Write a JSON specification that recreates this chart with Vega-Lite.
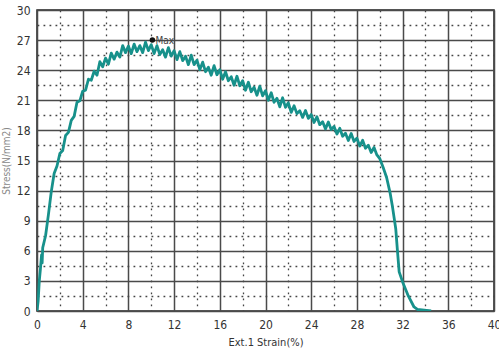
{
  "$schema": "https://vega.github.io/schema/vega-lite/v6.json",
  "width": 457,
  "height": 301,
  "autosize": {"type": "none"},
  "padding": {"left": 37, "top": 10, "right": 5, "bottom": 49},
  "background": "white",
  "config": {
    "view": {"stroke": "#222", "strokeWidth": 1.5},
    "font": "DejaVu Sans Condensed, Liberation Sans, sans-serif"
  },
  "layer": [
    {
      "data": {"values": [
        {"strain": 0, "stress": 0},
        {"strain": 0.1, "stress": 1.0},
        {"strain": 0.2, "stress": 3.0},
        {"strain": 0.3, "stress": 4.2},
        {"strain": 0.4, "stress": 5.6},
        {"strain": 0.45, "stress": 4.8},
        {"strain": 0.5, "stress": 6.3},
        {"strain": 0.75, "stress": 7.5},
        {"strain": 1.0, "stress": 9.6},
        {"strain": 1.25, "stress": 11.9},
        {"strain": 1.5, "stress": 13.7},
        {"strain": 1.75, "stress": 14.45},
        {"strain": 2.0, "stress": 15.7},
        {"strain": 2.25, "stress": 16.0},
        {"strain": 2.5, "stress": 17.5},
        {"strain": 2.75, "stress": 17.8},
        {"strain": 3.0, "stress": 19.0},
        {"strain": 3.25, "stress": 19.4},
        {"strain": 3.5, "stress": 20.8},
        {"strain": 3.75, "stress": 20.95},
        {"strain": 4.0, "stress": 21.9},
        {"strain": 4.25, "stress": 22.0},
        {"strain": 4.5, "stress": 23.1},
        {"strain": 4.75, "stress": 23.0},
        {"strain": 5.0, "stress": 23.9},
        {"strain": 5.25, "stress": 23.5},
        {"strain": 5.5, "stress": 24.85},
        {"strain": 5.75, "stress": 24.35},
        {"strain": 6.0, "stress": 25.2},
        {"strain": 6.25, "stress": 24.6},
        {"strain": 6.5, "stress": 25.7},
        {"strain": 6.75, "stress": 25.1},
        {"strain": 7.0, "stress": 25.8},
        {"strain": 7.25, "stress": 25.3},
        {"strain": 7.5, "stress": 26.45},
        {"strain": 7.75, "stress": 25.75},
        {"strain": 8.0, "stress": 26.4},
        {"strain": 8.25, "stress": 25.65},
        {"strain": 8.5, "stress": 26.6},
        {"strain": 8.75, "stress": 25.85},
        {"strain": 9.0, "stress": 26.45},
        {"strain": 9.25, "stress": 25.75},
        {"strain": 9.5, "stress": 26.8},
        {"strain": 9.75, "stress": 25.95},
        {"strain": 10.0, "stress": 26.55},
        {"strain": 10.25, "stress": 25.65},
        {"strain": 10.5, "stress": 26.45},
        {"strain": 10.75, "stress": 25.55},
        {"strain": 11.0, "stress": 26.05},
        {"strain": 11.25, "stress": 25.3},
        {"strain": 11.5, "stress": 26.25},
        {"strain": 11.75, "stress": 25.4},
        {"strain": 12.0, "stress": 25.95},
        {"strain": 12.25, "stress": 25.05},
        {"strain": 12.5, "stress": 25.85},
        {"strain": 12.75, "stress": 24.95},
        {"strain": 13.0, "stress": 25.4},
        {"strain": 13.25, "stress": 24.55},
        {"strain": 13.5, "stress": 25.5},
        {"strain": 13.75, "stress": 24.55},
        {"strain": 14.0, "stress": 25.0},
        {"strain": 14.25, "stress": 24.05},
        {"strain": 14.5, "stress": 24.8},
        {"strain": 14.75, "stress": 23.85},
        {"strain": 15.0, "stress": 24.3},
        {"strain": 15.25, "stress": 23.5},
        {"strain": 15.5, "stress": 24.45},
        {"strain": 15.75, "stress": 23.55},
        {"strain": 16.0, "stress": 24.05},
        {"strain": 16.25, "stress": 23.1},
        {"strain": 16.5, "stress": 23.85},
        {"strain": 16.75, "stress": 22.95},
        {"strain": 17.0, "stress": 23.35},
        {"strain": 17.25, "stress": 22.5},
        {"strain": 17.5, "stress": 23.4},
        {"strain": 17.75, "stress": 22.45},
        {"strain": 18.0, "stress": 22.95},
        {"strain": 18.25, "stress": 22.0},
        {"strain": 18.5, "stress": 22.8},
        {"strain": 18.75, "stress": 21.85},
        {"strain": 19.0, "stress": 22.3},
        {"strain": 19.25, "stress": 21.5},
        {"strain": 19.5, "stress": 22.4},
        {"strain": 19.75, "stress": 21.45},
        {"strain": 20.0, "stress": 21.95},
        {"strain": 20.25, "stress": 21.0},
        {"strain": 20.5, "stress": 21.75},
        {"strain": 20.75, "stress": 20.8},
        {"strain": 21.0, "stress": 21.2},
        {"strain": 21.25, "stress": 20.35},
        {"strain": 21.5, "stress": 21.25},
        {"strain": 21.75, "stress": 20.3},
        {"strain": 22.0, "stress": 20.75},
        {"strain": 22.25, "stress": 19.8},
        {"strain": 22.5, "stress": 20.46},
        {"strain": 22.75, "stress": 19.67},
        {"strain": 23.0, "stress": 19.96},
        {"strain": 23.25, "stress": 19.3},
        {"strain": 23.5, "stress": 19.99},
        {"strain": 23.75, "stress": 19.2},
        {"strain": 24.0, "stress": 19.58},
        {"strain": 24.25, "stress": 18.79},
        {"strain": 24.5, "stress": 19.36},
        {"strain": 24.75, "stress": 18.57},
        {"strain": 25.0, "stress": 18.86},
        {"strain": 25.25, "stress": 18.15},
        {"strain": 25.5, "stress": 18.84},
        {"strain": 25.75, "stress": 18.1},
        {"strain": 26.0, "stress": 18.38},
        {"strain": 26.25, "stress": 17.64},
        {"strain": 26.5, "stress": 18.21},
        {"strain": 26.75, "stress": 17.42},
        {"strain": 27.0, "stress": 17.71},
        {"strain": 27.25, "stress": 17.0},
        {"strain": 27.5, "stress": 17.69},
        {"strain": 27.75, "stress": 16.9},
        {"strain": 28.0, "stress": 17.23},
        {"strain": 28.25, "stress": 16.44},
        {"strain": 28.5, "stress": 17.01},
        {"strain": 28.75, "stress": 16.22},
        {"strain": 29.0, "stress": 16.51},
        {"strain": 29.25, "stress": 15.8},
        {"strain": 29.5, "stress": 16.3},
        {"strain": 29.75, "stress": 15.55},
        {"strain": 30.0, "stress": 15.2},
        {"strain": 30.3, "stress": 14.3},
        {"strain": 30.6, "stress": 13.3},
        {"strain": 30.9, "stress": 11.8},
        {"strain": 31.1, "stress": 10.5},
        {"strain": 31.4, "stress": 8.2},
        {"strain": 31.55, "stress": 6.0},
        {"strain": 31.7, "stress": 3.9},
        {"strain": 32.0, "stress": 2.9},
        {"strain": 32.5, "stress": 1.5},
        {"strain": 33.0, "stress": 0.4},
        {"strain": 33.3, "stress": 0.15},
        {"strain": 34.5, "stress": 0.0}
      ]},
      "mark": {"type": "line", "color": "#17918b", "strokeWidth": 2.8, "strokeJoin": "round", "clip": true},
      "encoding": {
        "x": {
          "field": "strain", "type": "quantitative",
          "scale": {"domain": [0, 40], "nice": false, "zero": false},
          "axis": {
            "title": "Ext.1 Strain(%)",
            "titleFont": "DejaVu Sans Condensed, Liberation Sans, sans-serif",
            "titleFontSize": 11,
            "titleFontWeight": "normal",
            "titleColor": "#333",
            "titlePadding": 6,
            "tickCount": 100,
            "format": "d",
            "values": [0, 2, 4, 6, 8, 10, 12, 14, 16, 18, 20, 22, 24, 26, 28, 30, 32, 34, 36, 38, 40],
            "labelExpr": "datum.value % 4 === 0 ? format(datum.value, 'd') : ''",
            "labelFont": "DejaVu Sans Condensed, Liberation Sans, sans-serif",
            "labelFontSize": 12,
            "labelColor": "#333",
            "labelPadding": 8,
            "labelFlush": false,
            "labelOverlap": false,
            "ticks": false,
            "domain": false,
            "grid": true,
            "gridColor": {"condition": {"test": "datum.value % 4 === 0", "value": "#4a4a4a"}, "value": "#444"},
            "gridWidth": {"condition": {"test": "datum.value % 4 === 0", "value": 1.5}, "value": 1.3},
            "gridDash": {"condition": {"test": "datum.value % 4 === 0", "value": []}, "value": [1.8, 4.2]},
            "gridOpacity": 1
          }
        },
        "y": {
          "field": "stress", "type": "quantitative",
          "scale": {"domain": [0, 30], "nice": false, "zero": false},
          "axis": {
            "title": "Stress(N/mm2)",
            "titleFont": "DejaVu Sans Condensed, Liberation Sans, sans-serif",
            "titleFontSize": 10,
            "titleFontWeight": "normal",
            "titleColor": "#888",
            "titlePadding": 5,
            "tickCount": 100,
            "format": "d",
            "values": [0, 1.5, 3, 4.5, 6, 7.5, 9, 10.5, 12, 13.5, 15, 16.5, 18, 19.5, 21, 22.5, 24, 25.5, 27, 28.5, 30],
            "labelExpr": "datum.value % 3 === 0 ? format(datum.value, 'd') : ''",
            "labelFont": "DejaVu Sans Condensed, Liberation Sans, sans-serif",
            "labelFontSize": 12,
            "labelColor": "#333",
            "labelPadding": 7,
            "labelFlush": false,
            "labelOverlap": false,
            "ticks": false,
            "domain": false,
            "grid": true,
            "gridColor": {"condition": {"test": "datum.value % 3 === 0", "value": "#4a4a4a"}, "value": "#444"},
            "gridWidth": {"condition": {"test": "datum.value % 3 === 0", "value": 1.5}, "value": 1.3},
            "gridDash": {"condition": {"test": "datum.value % 3 === 0", "value": []}, "value": [1.8, 4.2]},
            "gridOpacity": 1
          }
        }
      }
    },
    {
      "data": {"values": [{"strain": 10.1, "stress": 27.0, "label": "Max"}]},
      "mark": {"type": "point", "filled": true, "color": "#111", "size": 30, "opacity": 1},
      "encoding": {
        "x": {"field": "strain", "type": "quantitative"},
        "y": {"field": "stress", "type": "quantitative"}
      }
    },
    {
      "data": {"values": [{"strain": 10.1, "stress": 27.0, "label": "Max"}]},
      "mark": {"type": "text", "align": "left", "baseline": "middle", "dx": 3, "dy": 1, "fontSize": 10, "font": "DejaVu Sans Condensed, Liberation Sans, sans-serif", "color": "#444"},
      "encoding": {
        "x": {"field": "strain", "type": "quantitative"},
        "y": {"field": "stress", "type": "quantitative"},
        "text": {"field": "label"}
      }
    }
  ]
}
